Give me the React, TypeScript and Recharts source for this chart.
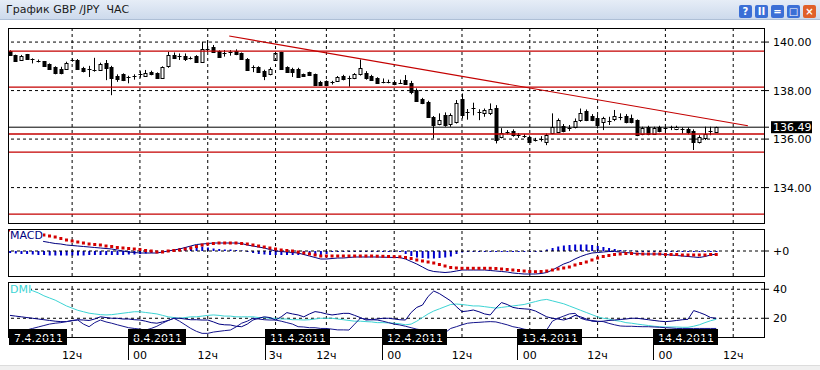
import React from 'react';
import { ComposedChart, Bar, Line, XAxis, YAxis, ReferenceLine } from 'recharts';

// hourly GBP/JPY candles, one slot per hour (7.4.2011 - 14.4.2011)
const opens = [
  139.63, 139.45, 139.26, 139.49, 139.30, 139.24, 139.21, 139.08, 138.98, 138.87,
  138.88, 139.26, 139.26, 138.94, 138.91, 138.86, 138.85, 139.12, 138.98, 138.61,
  138.67, 138.56, 138.60, 138.70, 138.61, 138.78, 138.71, 138.53, 139.02, 139.46,
  139.42, 139.44, 139.36, 139.44, 139.19, 139.68, 139.81, 139.62, 139.53, 139.60,
  139.62, 139.53, 139.32, 138.98, 138.96, 138.82, 138.67, 139.27, 139.57, 138.98,
  138.87, 138.91, 138.67, 138.75, 138.67, 138.36, 138.39, 138.36, 138.39, 138.61,
  138.50, 138.50, 138.67, 138.71, 138.60, 138.50, 138.37, 138.37, 138.37, 138.33,
  138.43, 138.33, 138.02, 137.64, 137.54, 136.92, 136.61, 136.99, 136.64, 136.71,
  137.64, 137.10, 137.30, 137.13, 137.06, 137.06, 137.28, 136.08, 136.30, 136.33,
  136.16, 136.12, 136.09, 135.96, 136.00, 135.89, 136.24, 136.30, 136.55, 136.45,
  136.51, 136.78, 137.15, 136.96, 136.88, 136.71, 136.75, 136.83, 136.92, 136.96,
  136.85, 136.78, 136.23, 136.51, 136.23, 136.51, 136.44, 136.48, 136.40, 136.42,
  136.42, 136.33, 135.89, 136.03, 136.30, 136.30,
];
const highs = [
  139.66, 139.48, 139.47, 139.51, 139.33, 139.28, 139.22, 139.12, 139.00, 138.98,
  139.19, 139.33, 139.30, 138.98, 139.02, 139.35, 139.15, 139.26, 139.02, 138.67,
  138.71, 138.61, 138.67, 138.80, 138.85, 138.82, 138.75, 139.00, 139.60, 139.57,
  139.53, 139.53, 139.40, 139.46, 140.02, 140.08, 139.88, 139.66, 139.67, 139.67,
  139.70, 139.57, 139.34, 139.04, 139.00, 138.86, 138.96, 139.60, 139.60, 139.00,
  138.94, 138.94, 138.70, 138.78, 138.70, 138.40, 138.42, 138.40, 138.60, 138.65,
  138.61, 138.72, 139.28, 138.80, 138.65, 138.55, 138.50, 138.45, 138.42, 138.45,
  138.64, 138.40, 138.09, 137.70, 137.58, 136.95, 137.06, 137.10, 137.06, 137.61,
  137.88, 137.24, 137.50, 137.23, 137.26, 137.47, 137.40, 136.45, 136.37, 136.40,
  136.25, 136.20, 136.15, 136.05, 136.12, 136.23, 137.06, 136.85, 136.62, 136.58,
  136.85, 137.26, 137.22, 137.03, 136.99, 136.92, 136.92, 137.20, 137.06, 137.03,
  137.01, 136.81, 136.51, 136.55, 136.51, 136.55, 136.51, 136.55, 136.55, 136.48,
  136.48, 136.40, 136.16, 136.51, 136.51, 136.51,
];
const lows = [
  139.44, 139.20, 139.24, 139.27, 139.12, 139.16, 139.00, 138.85, 138.67, 138.67,
  138.86, 139.19, 138.85, 138.75, 138.56, 138.78, 138.82, 138.43, 137.81, 138.36,
  138.39, 138.30, 138.45, 138.53, 138.56, 138.63, 138.48, 138.50, 138.94, 139.30,
  139.26, 139.22, 139.28, 139.16, 139.16, 139.60, 139.55, 139.38, 139.40, 139.44,
  139.46, 139.28, 138.83, 138.76, 138.73, 138.43, 138.63, 139.24, 138.88, 138.73,
  138.56, 138.53, 138.58, 138.60, 138.20, 138.22, 138.18, 138.25, 138.36, 138.42,
  138.16, 138.47, 138.62, 138.45, 138.40, 138.27, 138.30, 138.30, 138.22, 138.28,
  138.23, 137.85, 137.54, 137.44, 136.88, 136.03, 136.57, 136.51, 136.51, 136.64,
  136.85, 136.80, 136.98, 136.78, 136.92, 136.99, 135.82, 136.03, 136.20, 136.10,
  136.05, 136.05, 135.85, 135.90, 135.90, 135.75, 136.20, 136.25, 136.28, 136.33,
  136.44, 136.71, 136.74, 136.74, 136.44, 136.37, 136.58, 136.74, 136.78, 136.65,
  136.65, 136.12, 136.16, 136.16, 136.20, 136.28, 136.23, 136.37, 136.37, 136.23,
  136.20, 135.55, 135.82, 135.96, 136.16, 136.28,
];
const closes = [
  139.47, 139.22, 139.44, 139.29, 139.27, 139.23, 139.02, 138.91, 138.71, 138.71,
  139.15, 139.24, 138.88, 138.80, 138.85, 138.84, 139.10, 138.94, 138.53, 138.47,
  138.43, 138.55, 138.58, 138.68, 138.73, 138.67, 138.50, 138.98, 139.46, 139.35,
  139.40, 139.30, 139.33, 139.19, 139.71, 139.70, 139.60, 139.40, 139.52, 139.58,
  139.49, 139.30, 138.85, 138.96, 138.76, 138.61, 138.91, 139.53, 138.91, 138.76,
  138.78, 138.56, 138.62, 138.64, 138.23, 138.25, 138.22, 138.30, 138.57, 138.47,
  138.52, 138.67, 138.94, 138.50, 138.43, 138.30, 138.36, 138.35, 138.26, 138.32,
  138.27, 137.95, 137.58, 137.47, 136.92, 136.58, 136.78, 136.58, 136.99, 137.47,
  136.99, 137.08, 137.29, 137.10, 137.20, 137.22, 135.96, 136.25, 136.29, 136.16,
  136.12, 136.10, 135.89, 135.93, 135.96, 136.18, 136.51, 136.78, 136.33, 136.44,
  136.74, 137.06, 136.78, 136.78, 136.58, 136.88, 136.74, 136.96, 136.90, 136.69,
  136.69, 136.16, 136.44, 136.23, 136.44, 136.33, 136.42, 136.46, 136.48, 136.40,
  136.28, 135.89, 136.10, 136.23, 136.33, 136.49,
];

// MACD panel (arbitrary units, 0 = zero line)
const macdLine = [
  14, 13.5, 13, 12, 11, 10.5, 9.5, 8.5, 7.5, 7, 6,
  5.5, 5, 4.5, 4, 3.5, 3, 2.5, 2, 1, 0, -1, -1.5,
  -2, -2, -2, -2, -1, 0, 1, 2, 3.5, 5, 6.5, 7,
  7.5, 8, 8, 8, 8, 8, 7.5, 6, 5, 4, 3, 1.5,
  0, -0.5, -1, -1.5, -2, -3.5, -5, -6.5, -8, -8, -7.5, -7,
  -7, -6.5, -6, -6, -6, -6, -6, -6.2, -6.3, -6.5, -6.5, -8,
  -10.5, -13, -16, -19, -20.5, -21, -21.5, -21, -20, -19, -19, -19,
  -19, -19, -19.5, -20, -20.5, -21, -22, -22.5, -23, -23, -23, -22.5,
  -21.5, -19, -16, -13, -11, -8, -5.5, -3.5, -2, -1.5, -1, -0.5,
  -0.5, -1, -1.5, -2, -2.5, -3, -3, -3, -3, -3.5, -4, -4.5,
  -5, -5.5, -6, -6.5, -5.5, -4, -3,
];
const signalLine = [
  21, 20, 19, 18.5, 17.5, 17, 16, 15, 14, 12.5, 11,
  10, 9, 8, 7, 6.5, 6, 5, 4.5, 3.5, 3, 2.5, 2,
  1.5, 0.5, 0, -1, -1, 0, 0.5, 1, 2, 3, 4.5, 6,
  7, 7.5, 8, 8, 8, 8, 7.5, 7, 6, 5, 4, 3,
  2, 1, 0.5, 0, -1, -2, -3, -4, -5, -5, -5, -5,
  -5, -5, -5, -5, -5, -5, -5.2, -5.3, -5.5, -5.7, -5.8, -6.5,
  -7.5, -9, -10, -11, -12, -13.5, -15, -16.5, -17, -17.3, -17.3, -17.3,
  -17.3, -17.3, -17.3, -17.5, -18, -18.5, -19, -19.5, -20, -20.5, -20.7, -20.5,
  -20, -19, -18, -17, -16, -14, -12.5, -11, -9, -7, -5.5, -4.5,
  -3.5, -3, -2.5, -2.5, -3, -3, -3, -3, -3, -3.5, -3.5, -3.5,
  -4, -4, -4, -4, -4, -3.5, -3.5,
];
const macdHist = [
  -2, -2.5, -3, -3, -3.5, -4, -4, -4.5, -4.5, -4.5, -4.5,
  -4.5, -4.5, -4.5, -4, -4, -4, -4, -4, -4, -4, -3.5, -3.5,
  -3, -2.5, -2, -1.5, -1, 0.5, 1.5, 3, 4, 4.5, 4.5, 4.5,
  3.5, 2.5, 2, 1.5, 1.5, 1, 0.5, -1, -2, -3, -3.5, -4,
  -4, -4, -4, -4, -4, -4, -4, -4, -4, -3, -1, -1,
  -1, -1, -1, -1, -1, -1, -1, -1, -1, -1, -1, -3,
  -5, -6.5, -7, -7.5, -7.5, -7, -6.5, -5.5, -3, -1.5, -1, -1,
  -1, -1, -1, -1, -1, -1, -1, -1, -1, -1, -1, -1,
  1.5, 3, 4.5, 5.5, 6, 6.5, 6.5, 6.5, 6, 5, 4, 3,
  2, 1, 0.5, 0.5, -1, -1, -1, -1, -1, -1, -1, -1,
  -1, -1, -1, -1, -1, -1, -1,
];

// DMI panel
const adxLine = [
  43, 42, 41, 40, 39, 37.5, 35.5, 34, 32.5, 30.5, 28.5,
  27, 25.5, 24.5, 23.5, 23, 22.5, 22.3, 22.5, 23, 23.5, 24, 24.5,
  24.5, 24, 23.5, 23, 22, 21, 20.5, 20, 20.5, 21, 21, 21.5,
  22, 22.3, 22, 21.5, 21.5, 21, 21, 21, 21, 20.5, 20.5, 20,
  20, 19.5, 19.5, 19, 19, 18.8, 19, 19.5, 20, 20, 20, 19.5,
  19, 18.5, 18, 18, 17.7, 17.5, 17, 17, 16.8, 16.6, 16.2, 15.5,
  16, 18, 20.5, 23, 25, 26.5, 28, 29.5, 29.8, 29.5, 29, 28.5,
  28.5, 28, 27.5, 27, 27.5, 28, 28.5, 29, 29.5, 30.5, 31.5, 32.5,
  33, 32, 31, 30, 28.5, 27, 25.5, 24, 22.5, 21, 20, 19.5,
  18.5, 18, 17, 16.6, 16, 15.5, 15, 14.5, 14.2, 14, 14, 14,
  13.8, 13.8, 14.5, 15.5, 17, 18.3, 19.3,
];
const plusDI = [
  22, 21.5, 21, 20.5, 20, 19.5, 19, 18.5, 18, 17.7, 17.7,
  18.5, 19, 18.8, 18.5, 19.5, 21, 20.5, 20, 20, 19.5, 19.5, 19,
  18.8, 18, 17, 16.6, 17.5, 18.5, 20, 20, 19.5, 19, 19, 18.8,
  18.8, 17.5, 16, 15.5, 15.4, 14.5, 14.2, 16, 18.8, 20, 21, 20.5,
  18.8, 21, 23.9, 23, 22.3, 21, 23, 24.6, 24, 23, 22.3, 22.8,
  23.4, 23.4, 22, 20.5, 18.8, 19, 19.5, 20, 20, 19.5, 19, 18.8,
  24, 27.5, 29.1, 35, 38.8, 37, 34.5, 32, 28, 24.6, 25, 25.7,
  24.5, 23, 22.3, 27, 30.8, 29.5, 27.5, 26.8, 26.5, 26.2, 25, 23,
  21, 20, 19.5, 18.8, 20, 22, 21, 19.5, 18, 17.7, 18, 18.5,
  18.8, 19.2, 19.5, 20, 20, 19.5, 19, 18.5, 18, 17.7, 18, 18.5,
  19, 19.3, 25.3, 24, 22.5, 20.5, 20,
];
const minusDI = [
  9, 10, 11, 12, 13, 14, 15, 16, 16.6, 17, 17.7,
  18.3, 18.8, 16, 14.2, 17, 18.8, 17.5, 16.6, 15.5, 14.5, 13.5, 13,
  12.5, 11.9, 13, 14.5, 16.6, 18.5, 20, 18, 15.5, 13, 11, 9.6,
  9.6, 10.5, 11, 11.5, 11.9, 14, 16.6, 18, 20, 19.5, 19, 18.8,
  18.8, 18, 17, 16, 14.2, 14, 13.5, 13.5, 13, 13, 12.5, 12,
  12, 11.9, 16, 20, 19.5, 19, 18.8, 18, 17, 16, 15.4, 14.5,
  13.5, 12.5, 11.9, 10, 8, 7.3, 10, 13, 14.2, 15.5, 16.6, 17,
  17.2, 17.5, 17.7, 17.5, 16.5, 15.5, 14.2, 13.5, 12.5, 11.9, 11.9, 11.9,
  12, 18, 20, 21.5, 23, 23.4, 20, 18.8, 18.5, 18, 17.7, 16.5,
  15.5, 14.7, 14.5, 14.5, 14.3, 14.2, 14.2, 14, 13.8, 13.5, 13.3, 13,
  13, 13, 13, 13, 13, 13, 13,
];

// time axis: grid slots and their labels
const gridSlots = [11, 23, 35, 47, 56, 68, 80, 92, 104, 116, 128];
const hourLabels = ['12ч', '00', '12ч', '3ч', '12ч', '00', '12ч', '00', '12ч', '00', '12ч'];
const daySlots = [-0.2, 20.9, 45.1, 65.8, 89.7, 113.8];
const dayLabels = ['7.4.2011', '8.4.2011', '11.4.2011', '12.4.2011', '13.4.2011', '14.4.2011'];

// price annotations
const priceTicks = [134, 136, 138, 140];
const levelLines = [139.63, 138.14, 136.21, 135.46, 132.91];
const trendLine = [{ x: 38.8, y: 140.25 }, { x: 130.6, y: 136.55 }];
const lastPrice = closes[closes.length - 1];

const xDomain: [number, number] = [-0.35, 133.45];
const FONT = 'DejaVu Sans';

const candles = opens.map((o, i) => ({ i, open: o, high: highs[i], low: lows[i], close: closes[i] }));
const macdData = macdLine.map((m, i) => ({ i, macd: m, signal: signalLine[i], hist: macdHist[i] }));
const dmiData = adxLine.map((a, i) => ({ i, adx: a, plus: plusDI[i], minus: minusDI[i] }));

const Candle = (props: any) => {
  const { x, y, width, height, payload } = props;
  if (x == null || y == null) return <g />;
  const { open, high, low, close } = payload;
  const top = Math.min(y, y + height);
  const h = Math.abs(height);
  const k = h / (high - low);
  const py = (v: number) => top + (high - v) * k;
  const cx = Math.round(x + width / 2) + 0.5;
  const bTop = Math.round(py(Math.max(open, close)));
  const bBot = Math.round(py(Math.min(open, close)));
  return (
    <g>
      <line x1={cx} x2={cx} y1={top} y2={top + h} stroke="#000" strokeWidth={1} />
      {bBot - bTop < 2 ? (
        <line x1={cx - 2} x2={cx + 2} y1={bTop + 0.5} y2={bTop + 0.5} stroke="#000" />
      ) : (
        <rect x={cx - 1.5} y={bTop + 0.5} width={3} height={bBot - bTop} fill={close >= open ? '#fff' : '#000'} stroke="#000" />
      )}
    </g>
  );
};

const PriceTick = ({ x, y, payload }: any) => {
  const v = payload.value;
  if (v === lastPrice) {
    return (
      <g>
        <rect x={x - 1} y={y - 6} width={41} height={12} fill="#000" />
        <text x={x + 1} y={y} dy="0.36em" fill="#fff" fontSize={11} fontFamily={FONT}>{v.toFixed(2)}</text>
      </g>
    );
  }
  return <text x={x + 1} y={y} dy="0.36em" fill="#000" fontSize={11} fontFamily={FONT}>{v.toFixed(2)}</text>;
};

const SimpleTick = (fmt: (v: number) => string) => ({ x, y, payload }: any) => (
  <text x={x + 1} y={y} dy="0.36em" fill="#000" fontSize={11} fontFamily={FONT}>{fmt(payload.value)}</text>
);

const HourTick = ({ x, payload }: any) => {
  const k = gridSlots.indexOf(payload.value);
  return <text x={x} y={79.5} textAnchor="middle" fontSize={11} fontFamily={FONT} fill="#000">{hourLabels[k]}</text>;
};

const DayTick = ({ x, payload }: any) => {
  const k = daySlots.indexOf(payload.value);
  const label = dayLabels[k] || '';
  const w = label.replace(/\./g, '').length * 7 + 7 + 9;
  const left = Math.round(x);
  return (
    <g>
      {k > 0 && <line x1={left + 0.5} x2={left + 0.5} y1={50} y2={81} stroke="#000" />}
      <rect x={left} y={50} width={w} height={16} fill="#000" />
      <text x={left + 5} y={62.5} fill="#fff" fontSize={11} fontFamily={FONT}>{label}</text>
    </g>
  );
};

const SignalDot = (p: any) => {
  if (p.cx == null || p.cy == null) return <g key={`sd-${p.index}`} />;
  return <rect key={`sd-${p.index}`} x={p.cx - 1.5} y={p.cy - 1.5} width={3} height={3} fill="#d40000" />;
};

const gridX = (prefix: string) =>
  gridSlots.map(s => <ReferenceLine key={`${prefix}-${s}`} x={s} stroke="#000" strokeDasharray="3 3" />);

const box = (top: number, height: number): React.CSSProperties => ({
  position: 'absolute', left: 8, top, width: 757, height, border: '1px solid #000', boxSizing: 'border-box', pointerEvents: 'none',
});

const btn = (left: number, bg: string, glyph: string) => (
  <div style={{
    position: 'absolute', left, top: 5, width: 13, height: 13, background: bg, borderRadius: 2, color: '#fff',
    fontSize: 10, fontWeight: 700, lineHeight: '13px', textAlign: 'center', fontFamily: FONT,
  }}>{glyph}</div>
);

export default function App() {
  return (
    <div style={{ position: 'absolute', left: 0, top: 0, width: 820, height: 370, background: '#fff', overflow: 'hidden', fontFamily: FONT }}>
      {/* title bar */}
      <div style={{
        position: 'absolute', left: 0, top: 0, width: 820, height: 19,
        background: 'linear-gradient(#e6edf7, #cddaec)', borderBottom: '1px solid #aebfd6',
      }}>
        <span style={{ position: 'absolute', left: 6, top: 3, fontSize: 11, color: '#1a1a1a' }}>График GBP /JPY&nbsp; ЧАС</span>
        {btn(739, '#3b6fd6', '?')}
        {btn(755, '#3b6fd6', 'II')}
        {btn(771, '#3b6fd6', '=')}
        {btn(787, '#3b6fd6', '□')}
        {btn(803, '#e0602a', '×')}
      </div>

      {/* price panel */}
      <div style={{ position: 'absolute', left: 0, top: 0 }}>
        <ComposedChart width={820} height={228} data={candles} margin={{ top: 28, right: 0, bottom: 5, left: 8 }}>
          <XAxis dataKey="i" type="number" domain={xDomain} hide allowDataOverflow />
          <YAxis orientation="right" width={56} domain={[132.54, 140.58]} allowDataOverflow
            ticks={[...priceTicks, lastPrice]} interval={0} tick={PriceTick}
            tickSize={5} tickMargin={3} axisLine={false} tickLine={{ stroke: '#000' }} />
          {priceTicks.map(v => <ReferenceLine key={`py-${v}`} y={v} stroke="#000" strokeDasharray="3 3" />)}
          {gridX('pg')}
          {levelLines.map(v => <ReferenceLine key={`lv-${v}`} y={v} stroke="#c40000" strokeWidth={1.3} />)}
          <ReferenceLine y={lastPrice} stroke="#000" />
          <ReferenceLine segment={trendLine} stroke="#c40000" strokeWidth={1.2} />
          <Bar dataKey={(d: any) => [d.low, d.high]} shape={Candle} barSize={5} isAnimationActive={false} />
        </ComposedChart>
      </div>

      {/* MACD panel */}
      <div style={{ position: 'absolute', left: 0, top: 226 }}>
        <ComposedChart width={820} height={53} data={macdData} margin={{ top: 3, right: 0, bottom: 3, left: 8 }}>
          <XAxis dataKey="i" type="number" domain={xDomain} hide allowDataOverflow />
          <YAxis orientation="right" width={56} domain={[-25, 22]} allowDataOverflow ticks={[0]} interval={0}
            tick={SimpleTick(() => '+0')} tickSize={5} tickMargin={3} axisLine={false} tickLine={{ stroke: '#000' }} />
          <ReferenceLine y={0} stroke="#000" strokeDasharray="3 3" />
          {gridX('mg')}
          <Bar dataKey="hist" fill="#0000cc" barSize={2} isAnimationActive={false} />
          <Line dataKey="macd" stroke="#000080" strokeWidth={1} dot={false} isAnimationActive={false} />
          <Line dataKey="signal" stroke="none" dot={SignalDot} isAnimationActive={false} />
        </ComposedChart>
      </div>

      {/* DMI panel */}
      <div style={{ position: 'absolute', left: 0, top: 279 }}>
        <ComposedChart width={820} height={91} data={dmiData} margin={{ top: 3, right: 0, bottom: 0, left: 8 }}>
          <XAxis dataKey="i" type="number" domain={xDomain} allowDataOverflow height={32}
            ticks={gridSlots} interval={0} tick={HourTick} axisLine={false} tickLine={false} />
          <XAxis xAxisId="days" dataKey="i" type="number" domain={xDomain} allowDataOverflow height={1}
            ticks={daySlots} interval={0} tick={DayTick} axisLine={false} tickLine={false} />
          <YAxis orientation="right" width={56} domain={[7.1, 45]} allowDataOverflow ticks={[20, 40]} interval={0}
            tick={SimpleTick(v => String(v))} tickSize={5} tickMargin={3} axisLine={false} tickLine={{ stroke: '#000' }} />
          <ReferenceLine y={20} stroke="#000" strokeDasharray="3 3" />
          <ReferenceLine y={40} stroke="#000" strokeDasharray="3 3" />
          {gridX('dg')}
          <Line dataKey="adx" stroke="#3cd4d4" strokeWidth={1} dot={false} isAnimationActive={false} />
          <Line dataKey="plus" stroke="#000080" strokeWidth={1} dot={false} isAnimationActive={false} />
          <Line dataKey="minus" stroke="#14148c" strokeWidth={1} dot={false} isAnimationActive={false} />
        </ComposedChart>
      </div>

      {/* panel frames and captions */}
      <div style={box(28, 196)} />
      <div style={box(229, 48)} />
      <div style={box(282, 56)} />
      <div style={{ position: 'absolute', left: 10, top: 230, fontSize: 11, lineHeight: '12px', color: '#000080', background: '#fff' }}>MACD</div>
      <div style={{ position: 'absolute', left: 10, top: 284, fontSize: 11, lineHeight: '12px', color: '#3cd4d4', background: '#fff' }}>DMI</div>
      <div style={{ position: 'absolute', left: 0, top: 365, width: 820, height: 5, background: '#f0f0f0', borderTop: '1px solid #dcdcdc' }} />
    </div>
  );
}
